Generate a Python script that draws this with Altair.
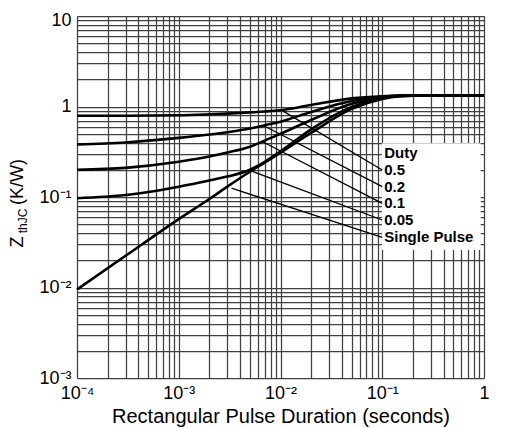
import altair as alt
import pandas as pd

# ---- data ----
pulse_t = [1e-4, 3e-4, 1e-3, 2e-3, 3e-3, 5e-3, 7e-3, 1e-2, 2e-2, 5e-2, 1e-1, 1.5e-1, 2e-1, 1.0]
z_duty_05 = [0.79, 0.79, 0.80, 0.82, 0.835, 0.86, 0.88, 0.91, 1.04, 1.23, 1.30, 1.318, 1.32, 1.32]
z_duty_02 = [0.38, 0.40, 0.45, 0.49, 0.52, 0.57, 0.62, 0.68, 0.87, 1.15, 1.28, 1.315, 1.32, 1.32]
z_duty_01 = [0.20, 0.21, 0.245, 0.28, 0.31, 0.36, 0.42, 0.50, 0.71, 1.07, 1.26, 1.31, 1.32, 1.32]
z_duty_005 = [0.097, 0.105, 0.13, 0.152, 0.168, 0.20, 0.245, 0.32, 0.56, 0.99, 1.24, 1.305, 1.32, 1.32]
z_single = [0.0095, 0.0224, 0.057, 0.095, 0.13, 0.19, 0.24, 0.31, 0.51, 0.94, 1.21, 1.30, 1.32, 1.32]

series_names = ["0.5", "0.2", "0.1", "0.05", "Single Pulse"]
series_values = [z_duty_05, z_duty_02, z_duty_01, z_duty_005, z_single]

leader_x0 = [0.0106, 0.0067, 0.0066, 0.0048, 0.0033]
leader_y0 = [0.89, 0.62, 0.41, 0.20, 0.125]
leader_x1 = [0.1, 0.1, 0.1, 0.1, 0.1]
leader_y1 = [0.199, 0.130, 0.0851, 0.0557, 0.0359]

legend_labels = ["Duty", "0.5", "0.2", "0.1", "0.05", "Single Pulse"]
legend_y = [0.304, 0.199, 0.130, 0.0851, 0.0557, 0.0359]
legend_x = [0.1] * len(legend_labels)

box_x = [0.099]
box_x2 = [0.928]
box_y = [0.392]
box_y2 = [0.026]

x_grid_vals = [m * 10.0 ** e for e in range(-4, 0) for m in range(1, 10)] + [1.0]
y_grid_vals = [m * 10.0 ** e for e in range(-3, 1) for m in range(1, 10)] + [10.0]

# ---- tables ----
rows = []
for name, vals in zip(series_names, series_values):
    for t, z in zip(pulse_t, vals):
        rows.append({"series": name, "t": t, "z": z})
curves_df = pd.DataFrame(rows)
leader_df = pd.DataFrame({"series": series_names, "x0": leader_x0, "y0": leader_y0,
                          "x1": leader_x1, "y1": leader_y1})
legend_df = pd.DataFrame({"label": legend_labels, "x": legend_x, "y": legend_y})
box_df = pd.DataFrame({"x": box_x, "x2": box_x2, "y": box_y, "y2": box_y2})

NB = "\u00a0"
SUP = {-1: "\u207b\u00b9", -2: "\u207b\u00b2", -3: "\u207b\u00b3", -4: "\u207b\u2074"}


def label_expr(pre, post):
    e = "round(log(datum.value)/LN10)"
    expr = f"abs(log(datum.value)/LN10 - {e}) > 0.001 ? '' : "
    expr += f"{e} == 0 ? '1' : {e} == 1 ? '10' : "
    for k, s in SUP.items():
        expr += f"{e} == {k} ? '{pre}10{s}{post}' : "
    expr += "''"
    return expr


FONT = "Liberation Sans"
xscale = alt.Scale(type="log", domain=[1e-4, 1], nice=False)
yscale = alt.Scale(type="log", domain=[1e-3, 10], nice=False)

common_axis = dict(grid=True, gridColor="#404040", gridWidth=1.25, gridOpacity=1,
                   ticks=False, domain=False, labelFont=FONT, labelFontSize=18,
                   labelColor="black", labelOverlap=False, labelFlush=False,
                   labelBound=False)

xaxis = alt.Axis(values=x_grid_vals, labelExpr=label_expr(NB + NB + NB, ""),
                 labelPadding=6, title="Rectangular Pulse Duration (seconds)",
                 titleFont=FONT, titleFontSize=20, titleFontWeight="normal",
                 titleColor="black", titlePadding=4, **common_axis)
yaxis = alt.Axis(values=y_grid_vals, labelExpr=label_expr("", NB + NB),
                 labelPadding=6, title=None,
                 labelOffset={"condition": {"test": "datum.value > 9", "value": 4}, "value": 0},
                 **common_axis)

curves = alt.Chart(curves_df).mark_line(color="black", strokeWidth=2.6,
                                        interpolate="monotone").encode(
    x=alt.X("t:Q", scale=xscale, axis=xaxis),
    y=alt.Y("z:Q", scale=yscale, axis=yaxis),
    detail="series:N",
)

box = alt.Chart(box_df).mark_rect(color="white").encode(
    x=alt.X("x:Q", scale=xscale), x2="x2:Q",
    y=alt.Y("y:Q", scale=yscale), y2="y2:Q",
)

leaders = alt.Chart(leader_df).mark_rule(color="black", strokeWidth=1.3).encode(
    x=alt.X("x0:Q", scale=xscale), x2="x1:Q",
    y=alt.Y("y0:Q", scale=yscale), y2="y1:Q",
)

legend_text = alt.Chart(legend_df).mark_text(
    align="left", baseline="middle", font=FONT, fontSize=15, fontWeight="bold",
    color="black", dx=2,
).encode(
    x=alt.X("x:Q", scale=xscale), y=alt.Y("y:Q", scale=yscale), text="label:N",
)

ytitle_parts = ["Z", "thJC", "(K/W)"]
ytitle = alt.layer(
    alt.Chart().mark_text(text=ytitle_parts[0], angle=270, font=FONT, fontSize=18,
                          color="black", baseline="middle", align="center").encode(
        x=alt.value(-59), y=alt.value(226)),
    alt.Chart().mark_text(text=ytitle_parts[1], angle=270, font=FONT, fontSize=12,
                          color="black", baseline="middle", align="center").encode(
        x=alt.value(-54), y=alt.value(205)),
    alt.Chart().mark_text(text=ytitle_parts[2], angle=270, font=FONT, fontSize=18,
                          color="black", baseline="middle", align="center").encode(
        x=alt.value(-59), y=alt.value(166)),
)

chart = alt.layer(box, curves, leaders, legend_text, ytitle).properties(
    width=407, height=362,
    padding={"left": 69, "top": 8, "right": 20, "bottom": 50},
    autosize=alt.AutoSizeParams(type="none"),
).configure_view(stroke="black", strokeWidth=3).configure(background="white")

chart.save("out.html", embed_options={"renderer": "svg", "actions": False})
